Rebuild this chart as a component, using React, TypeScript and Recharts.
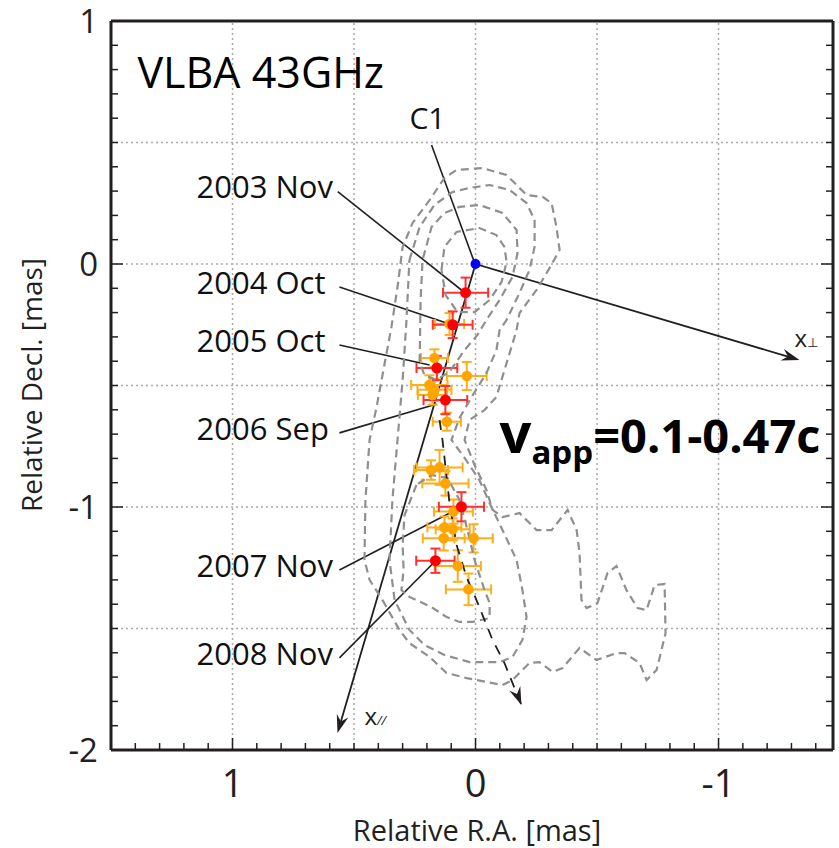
import React from 'react';
import { ScatterChart, Scatter, XAxis, YAxis, ReferenceLine, ErrorBar } from 'recharts';

const FONT = "'Open Sans', 'DejaVu Sans', sans-serif";
const INK = '#231f20';

// axis ticks (minor every 0.1 mas, labels on integers)
const xTicks = [1.5, 1.4, 1.3, 1.2, 1.1, 1, 0.9, 0.8, 0.7, 0.6, 0.5, 0.4, 0.3, 0.2, 0.1, 0, -0.1, -0.2, -0.3, -0.4, -0.5, -0.6, -0.7, -0.8, -0.9, -1, -1.1, -1.2, -1.3, -1.4];
const yTicks = [1, 0.9, 0.8, 0.7, 0.6, 0.5, 0.4, 0.3, 0.2, 0.1, 0, -0.1, -0.2, -0.3, -0.4, -0.5, -0.6, -0.7, -0.8, -0.9, -1, -1.1, -1.2, -1.3, -1.4, -1.5, -1.6, -1.7, -1.8, -1.9, -2];
const xTickLabels = [1, 0, -1];
const yTickLabels = [1, 0, -1, -2];
const gridX = [1, 0.5, 0, -0.5, -1];
const gridY = [0.5, 0, -0.5, -1, -1.5];

// C1 core
const corePts = [{ x: 0, y: 0 }];

// red epochs (labelled)
const redPts = [
  { x: 0.041, y: -0.118, ex: 0.093, ey: 0.062 },
  { x: 0.094, y: -0.25, ex: 0.082, ey: 0.055 },
  { x: 0.159, y: -0.428, ex: 0.084, ey: 0.05 },
  { x: 0.124, y: -0.56, ex: 0.09, ey: 0.058 },
  { x: 0.058, y: -0.999, ex: 0.093, ey: 0.06 },
  { x: 0.165, y: -1.221, ex: 0.079, ey: 0.05 },
];

// orange epochs
const orangePts = [
  { x: 0.107, y: -0.247, ex: 0.06, ey: 0.045 },
  { x: 0.169, y: -0.387, ex: 0.055, ey: 0.036 },
  { x: 0.036, y: -0.461, ex: 0.082, ey: 0.058 },
  { x: 0.19, y: -0.498, ex: 0.075, ey: 0.04 },
  { x: 0.169, y: -0.518, ex: 0.07, ey: 0.045 },
  { x: 0.177, y: -0.539, ex: 0.06, ey: 0.04 },
  { x: 0.118, y: -0.649, ex: 0.058, ey: 0.037 },
  { x: 0.183, y: -0.848, ex: 0.07, ey: 0.04 },
  { x: 0.148, y: -0.837, ex: 0.095, ey: 0.072 },
  { x: 0.124, y: -0.903, ex: 0.095, ey: 0.05 },
  { x: 0.091, y: -1.019, ex: 0.08, ey: 0.05 },
  { x: 0.128, y: -1.084, ex: 0.07, ey: 0.045 },
  { x: 0.094, y: -1.092, ex: 0.07, ey: 0.045 },
  { x: 0.131, y: -1.129, ex: 0.086, ey: 0.05 },
  { x: 0.008, y: -1.129, ex: 0.079, ey: 0.058 },
  { x: 0.073, y: -1.243, ex: 0.095, ey: 0.065 },
  { x: 0.029, y: -1.339, ex: 0.093, ey: 0.065 },
];

// contour levels (dashed grey)
const contourOuter = [
  { x: 0.383, y: -1.383 }, { x: 0.313, y: -1.506 }, { x: 0.272, y: -1.56 }, { x: 0.189, y: -1.617 },
  { x: 0.119, y: -1.683 }, { x: 0.037, y: -1.704 }, { x: -0.045, y: -1.72 }, { x: -0.111, y: -1.733 },
  { x: -0.152, y: -1.712 }, { x: -0.222, y: -1.642 }, { x: -0.263, y: -1.638 }, { x: -0.317, y: -1.679 },
  { x: -0.358, y: -1.663 }, { x: -0.428, y: -1.58 }, { x: -0.498, y: -1.63 }, { x: -0.58, y: -1.601 },
  { x: -0.613, y: -1.601 }, { x: -0.675, y: -1.642 }, { x: -0.704, y: -1.712 }, { x: -0.745, y: -1.671 },
  { x: -0.782, y: -1.519 }, { x: -0.778, y: -1.317 }, { x: -0.737, y: -1.321 }, { x: -0.704, y: -1.424 },
  { x: -0.667, y: -1.416 }, { x: -0.621, y: -1.342 }, { x: -0.58, y: -1.243 }, { x: -0.543, y: -1.272 },
  { x: -0.502, y: -1.395 }, { x: -0.457, y: -1.416 }, { x: -0.436, y: -1.383 }, { x: -0.428, y: -1.189 },
  { x: -0.416, y: -1.095 }, { x: -0.379, y: -1.012 }, { x: -0.313, y: -1.095 }, { x: -0.251, y: -1.095 },
  { x: -0.181, y: -1.025 }, { x: -0.111, y: -1.041 }, { x: -0.07, y: -1.012 }, { x: -0.045, y: -0.93 },
  { x: 0.004, y: -0.827 }, { x: 0.045, y: -0.724 }, { x: 0.025, y: -0.642 }, { x: -0.037, y: -0.601 },
  { x: -0.086, y: -0.547 }, { x: -0.128, y: -0.407 }, { x: -0.169, y: -0.272 }, { x: -0.181, y: -0.202 },
  { x: -0.251, y: -0.107 }, { x: -0.305, y: -0.016 }, { x: -0.346, y: 0.058 }, { x: -0.333, y: 0.152 },
  { x: -0.313, y: 0.251 }, { x: -0.276, y: 0.276 }, { x: -0.21, y: 0.284 }, { x: -0.128, y: 0.366 },
  { x: -0.029, y: 0.395 }, { x: 0.078, y: 0.387 }, { x: 0.128, y: 0.354 }, { x: 0.189, y: 0.263 },
  { x: 0.259, y: 0.169 }, { x: 0.3, y: 0.07 }, { x: 0.321, y: -0.095 }, { x: 0.346, y: -0.259 },
  { x: 0.407, y: -0.588 }, { x: 0.436, y: -0.724 }, { x: 0.453, y: -0.971 }, { x: 0.457, y: -1.218 },
  { x: 0.436, y: -1.3 }, { x: 0.383, y: -1.383 },
];
const contourSecond = [
  { x: 0.272, y: 0.016 }, { x: 0.23, y: 0.152 }, { x: 0.169, y: 0.243 }, { x: 0.095, y: 0.296 },
  { x: 0.025, y: 0.313 }, { x: -0.058, y: 0.325 }, { x: -0.14, y: 0.305 }, { x: -0.21, y: 0.251 },
  { x: -0.243, y: 0.181 }, { x: -0.243, y: 0.07 }, { x: -0.222, y: -0.025 }, { x: -0.181, y: -0.119 },
  { x: -0.128, y: -0.23 }, { x: -0.099, y: -0.272 }, { x: -0.086, y: -0.354 }, { x: -0.045, y: -0.449 },
  { x: 0.016, y: -0.547 }, { x: 0.066, y: -0.634 }, { x: 0.099, y: -0.724 }, { x: 0.045, y: -0.798 },
  { x: -0.016, y: -0.889 }, { x: -0.058, y: -0.984 }, { x: -0.111, y: -1.095 }, { x: -0.169, y: -1.218 },
  { x: -0.193, y: -1.342 }, { x: -0.21, y: -1.453 }, { x: -0.193, y: -1.547 }, { x: -0.152, y: -1.617 },
  { x: -0.099, y: -1.638 }, { x: 0.025, y: -1.638 }, { x: 0.128, y: -1.609 }, { x: 0.21, y: -1.568 },
  { x: 0.272, y: -1.506 }, { x: 0.333, y: -1.383 }, { x: 0.354, y: -1.218 }, { x: 0.342, y: -0.971 },
  { x: 0.321, y: -0.724 }, { x: 0.3, y: -0.477 }, { x: 0.284, y: -0.23 }, { x: 0.272, y: 0.016 },
];
const contourThird = [
  { x: 0.23, y: -0.403 }, { x: 0.226, y: -0.148 }, { x: 0.218, y: 0.016 }, { x: 0.181, y: 0.152 },
  { x: 0.128, y: 0.21 }, { x: 0.066, y: 0.235 }, { x: -0.016, y: 0.243 }, { x: -0.111, y: 0.21 },
  { x: -0.169, y: 0.14 }, { x: -0.173, y: 0.045 }, { x: -0.152, y: -0.053 }, { x: -0.099, y: -0.148 },
  { x: -0.045, y: -0.23 }, { x: -0.008, y: -0.292 }, { x: 0.045, y: -0.354 }, { x: 0.107, y: -0.444 },
  { x: 0.16, y: -0.477 }, { x: 0.21, y: -0.457 }, { x: 0.23, y: -0.403 },
];
const contourInner = [
  { x: 0.14, y: -0.025 }, { x: 0.128, y: 0.07 }, { x: 0.078, y: 0.132 }, { x: -0.016, y: 0.148 },
  { x: -0.086, y: 0.119 }, { x: -0.119, y: 0.07 }, { x: -0.128, y: 0.008 }, { x: -0.107, y: -0.074 },
  { x: -0.058, y: -0.148 }, { x: 0.004, y: -0.198 }, { x: 0.074, y: -0.198 }, { x: 0.123, y: -0.128 },
  { x: 0.14, y: -0.025 },
];
const contourLower = [
  { x: 0.243, y: -0.909 }, { x: 0.292, y: -1.033 }, { x: 0.3, y: -1.156 }, { x: 0.296, y: -1.259 },
  { x: 0.305, y: -1.342 }, { x: 0.272, y: -1.37 }, { x: 0.181, y: -1.412 }, { x: 0.119, y: -1.453 },
  { x: 0.066, y: -1.473 }, { x: 0.012, y: -1.473 }, { x: -0.058, y: -1.457 }, { x: -0.058, y: -1.395 },
  { x: -0.037, y: -1.342 }, { x: 0.004, y: -1.218 }, { x: 0.033, y: -1.095 }, { x: 0.066, y: -0.971 },
  { x: 0.115, y: -0.881 }, { x: 0.181, y: -0.868 }, { x: 0.243, y: -0.909 },
];
const contours = [contourOuter, contourSecond, contourThird, contourInner, contourLower];

// fitted trajectory (dashed arrow)
const trajectory = [
  { x: 0.148, y: -0.642 }, { x: 0.136, y: -0.724 }, { x: 0.107, y: -0.984 }, { x: 0.078, y: -1.156 },
  { x: 0.037, y: -1.288 }, { x: -0.004, y: -1.383 }, { x: -0.07, y: -1.547 }, { x: -0.119, y: -1.642 },
  { x: -0.189, y: -1.815 },
];

// leader lines: label end -> component
const leaderNames = ['C1', '2003 Nov', '2004 Oct', '2005 Oct', '2006 Sep', '2007 Nov', '2008 Nov'];
const leaderFrom = [
  { x: 0.181, y: 0.49 }, { x: 0.567, y: 0.298 }, { x: 0.56, y: -0.095 }, { x: 0.56, y: -0.333 },
  { x: 0.56, y: -0.695 }, { x: 0.56, y: -1.259 }, { x: 0.56, y: -1.621 },
];
const leaderTo = [
  { x: 0.008, y: 0.016 }, { x: 0.058, y: -0.107 }, { x: 0.107, y: -0.247 }, { x: 0.189, y: -0.416 },
  { x: 0.16, y: -0.576 }, { x: 0.066, y: -1.004 }, { x: 0.165, y: -1.222 },
];

// projection axes
const axisArrowNames = ['x⊥', 'x//'];
const axisArrowEnds = [{ x: -1.333, y: -0.395 }, { x: 0.568, y: -1.93 }];

// text anchors
const dateLabels = [
  { x: 1.148, y: 0.272, name: '2003 Nov' },
  { x: 1.148, y: -0.123, name: '2004 Oct' },
  { x: 1.148, y: -0.362, name: '2005 Oct' },
  { x: 1.148, y: -0.724, name: '2006 Sep' },
  { x: 1.148, y: -1.288, name: '2007 Nov' },
  { x: 1.148, y: -1.65, name: '2008 Nov' },
];
const c1Label = [{ x: 0.198, y: 0.556, name: 'C1' }];
const titleLabel = [{ x: 1.391, y: 0.724, name: 'VLBA 43GHz' }];
const speedLabel = [{ x: -0.099, y: -0.778 }];
const arrowLabels = [
  { x: -1.313, y: -0.342, name: 'x⊥' },
  { x: 0.457, y: -1.897, name: 'x//' },
];

const near = (v: number, list: number[]) => list.some((l) => Math.abs(l - v) < 1e-6);

const BottomTick = (p: any) => {
  const v = p.payload.value;
  const major = near(v, xTickLabels);
  return (
    <g>
      <line x1={p.x} x2={p.x} y1={p.y} y2={p.y - (major ? 12 : 7)} stroke={INK} strokeWidth={1.5} />
      {major && (
        <text x={p.x} y={p.y + 47} textAnchor="middle" fontSize={38} fontFamily={FONT} fill={INK}>
          {String(Math.round(v))}
        </text>
      )}
    </g>
  );
};
const TopTick = (p: any) => {
  const major = near(p.payload.value, xTickLabels);
  return <line x1={p.x} x2={p.x} y1={p.y} y2={p.y + (major ? 12 : 7)} stroke={INK} strokeWidth={1.5} />;
};
const LeftTick = (p: any) => {
  const v = p.payload.value;
  const major = near(v, yTickLabels);
  return (
    <g>
      <line x1={p.x} x2={p.x + (major ? 12 : 7)} y1={p.y} y2={p.y} stroke={INK} strokeWidth={1.5} />
      {major && (
        <text x={p.x - 13} y={p.y + 12} textAnchor="end" fontSize={33} fontFamily={FONT} fill={INK}>
          {String(Math.round(v))}
        </text>
      )}
    </g>
  );
};
const RightTick = (p: any) => {
  const major = near(p.payload.value, yTickLabels);
  return <line x1={p.x} x2={p.x - (major ? 12 : 7)} y1={p.y} y2={p.y} stroke={INK} strokeWidth={1.5} />;
};

const arrowHead = (x1: number, y1: number, x2: number, y2: number) => {
  const len = Math.hypot(x2 - x1, y2 - y1) || 1;
  const ux = (x2 - x1) / len;
  const uy = (y2 - y1) / len;
  const bx = x2 - ux * 18;
  const by = y2 - uy * 18;
  const nx = x2 - ux * 12;
  const ny = y2 - uy * 12;
  return {
    pts: `${x2},${y2} ${bx - uy * 6},${by + ux * 6} ${nx},${ny} ${bx + uy * 6},${by - ux * 6}`,
    nx,
    ny,
  };
};

const ArrowLine = (p: any) => {
  const { x1, y1, x2, y2 } = p;
  const h = arrowHead(x1, y1, x2, y2);
  return (
    <g>
      <line x1={x1} y1={y1} x2={h.nx} y2={h.ny} stroke={INK} strokeWidth={1.8} />
      <polygon points={h.pts} fill={INK} />
    </g>
  );
};
const HeadOnly = (p: any) => {
  const h = arrowHead(p.x1, p.y1, p.x2, p.y2);
  return <polygon points={h.pts} fill={INK} />;
};

const noDot = () => <g />;

export default function App() {
  return (
    <div style={{ position: 'absolute', left: 0, top: 0, width: 839, height: 848, background: '#fff' }}>
      <ScatterChart
        width={839}
        height={848}
        margin={{ top: 0, right: 0, bottom: 0, left: 0 }}
        style={{ fontFamily: FONT }}
      >
        <XAxis
          type="number"
          dataKey="x"
          domain={[-1.471, 1.5]}
          reversed
          allowDataOverflow
          ticks={xTicks}
          interval={0}
          tickSize={0}
          tickMargin={0}
          tick={BottomTick}
          tickLine={false}
          axisLine={{ stroke: INK, strokeWidth: 3 }}
          height={98}
          label={(lp: any) => (
            <text x={477} y={841} textAnchor="middle" fontSize={29} fontFamily={FONT} fill={INK}>
              Relative R.A. [mas]
            </text>
          )}
        />
        <XAxis
          xAxisId="top"
          orientation="top"
          type="number"
          domain={[-1.471, 1.5]}
          reversed
          allowDataOverflow
          ticks={xTicks}
          interval={0}
          tickSize={0}
          tickMargin={0}
          tick={TopTick}
          tickLine={false}
          axisLine={{ stroke: INK, strokeWidth: 3 }}
          height={21}
        />
        <YAxis
          type="number"
          dataKey="y"
          domain={[-2, 1]}
          allowDataOverflow
          ticks={yTicks}
          interval={0}
          tickSize={0}
          tickMargin={0}
          tick={LeftTick}
          tickLine={false}
          axisLine={{ stroke: INK, strokeWidth: 3 }}
          width={111}
          label={(lp: any) => (
            <text
              x={42}
              y={385}
              transform="rotate(-90 42 385)"
              textAnchor="middle"
              fontSize={28}
              fontFamily={FONT}
              fill={INK}
            >
              Relative Decl. [mas]
            </text>
          )}
        />
        <YAxis
          yAxisId="right"
          orientation="right"
          type="number"
          domain={[-2, 1]}
          allowDataOverflow
          ticks={yTicks}
          interval={0}
          tickSize={0}
          tickMargin={0}
          tick={RightTick}
          tickLine={false}
          axisLine={{ stroke: INK, strokeWidth: 3 }}
          width={6}
        />

        {gridX.map((v) => (
          <ReferenceLine key={`gx${v}`} x={v} stroke="#aaa" strokeWidth={1.5} strokeDasharray="2 3" />
        ))}
        {gridY.map((v) => (
          <ReferenceLine key={`gy${v}`} y={v} stroke="#aaa" strokeWidth={1.5} strokeDasharray="2 3" />
        ))}

        {contours.map((c, i) => (
          <Scatter
            key={`c${i}`}
            data={c}
            shape={noDot}
            line={{ stroke: '#8f8f8f', strokeWidth: 2.2, strokeDasharray: '8 5', fill: 'none' }}
            isAnimationActive={false}
          />
        ))}

        <Scatter
          data={trajectory}
          shape={noDot}
          line={{ stroke: INK, strokeWidth: 1.8, strokeDasharray: '10 8', fill: 'none' }}
          isAnimationActive={false}
        />
        <ReferenceLine
          segment={[trajectory[trajectory.length - 2], trajectory[trajectory.length - 1]]}
          shape={HeadOnly}
        />

        {leaderNames.map((n, i) => (
          <ReferenceLine key={n} segment={[leaderFrom[i], leaderTo[i]]} stroke={INK} strokeWidth={1.6} />
        ))}
        {axisArrowNames.map((n, i) => (
          <ReferenceLine key={n} segment={[corePts[0], axisArrowEnds[i]]} shape={ArrowLine} />
        ))}

        <Scatter
          data={orangePts}
          isAnimationActive={false}
          shape={(p: any) => <circle cx={p.cx} cy={p.cy} r={5.3} fill="#ffa500" />}
        >
          <ErrorBar dataKey="ex" direction="x" width={5} stroke="#ffae1a" strokeWidth={2} />
          <ErrorBar dataKey="ey" direction="y" width={5} stroke="#ffae1a" strokeWidth={2} />
        </Scatter>
        <Scatter
          data={redPts}
          isAnimationActive={false}
          shape={(p: any) => <circle cx={p.cx} cy={p.cy} r={5.5} fill="#ff0000" />}
        >
          <ErrorBar dataKey="ex" direction="x" width={5} stroke="#ff3030" strokeWidth={2} />
          <ErrorBar dataKey="ey" direction="y" width={5} stroke="#ff3030" strokeWidth={2} />
        </Scatter>
        <Scatter
          data={corePts}
          isAnimationActive={false}
          shape={(p: any) => <circle cx={p.cx} cy={p.cy} r={5} fill="#0000ff" />}
        />

        <Scatter
          data={dateLabels}
          isAnimationActive={false}
          shape={(p: any) => (
            <text x={p.cx} y={p.cy} fontSize={31} fontFamily={FONT} fill="#111">
              {p.payload.name}
            </text>
          )}
        />
        <Scatter
          data={c1Label}
          isAnimationActive={false}
          shape={(p: any) => (
            <text x={p.cx} y={p.cy} textAnchor="middle" fontSize={30} fontFamily={FONT} fill="#111">
              {p.payload.name}
            </text>
          )}
        />
        <Scatter
          data={titleLabel}
          isAnimationActive={false}
          shape={(p: any) => (
            <text x={p.cx} y={p.cy} fontSize={43} fontFamily={FONT} fill="#000">
              {p.payload.name}
            </text>
          )}
        />
        <Scatter
          data={speedLabel}
          isAnimationActive={false}
          shape={(p: any) => (
            <text x={p.cx} y={p.cy} fontFamily={FONT} fontWeight={700} fill="#000">
              <tspan fontSize={56}>v</tspan>
              <tspan fontSize={33} dy={11}>app</tspan>
              <tspan fontSize={47} dy={-11}>=0.1-0.47c</tspan>
            </text>
          )}
        />
        <Scatter
          data={arrowLabels}
          isAnimationActive={false}
          shape={(p: any) => (
            <text x={p.cx} y={p.cy} fontFamily={FONT} fill={INK}>
              <tspan fontSize={24}>x</tspan>
              <tspan fontSize={13} fontStyle={p.payload.name === 'x//' ? 'italic' : 'normal'}>
                {p.payload.name.slice(1)}
              </tspan>
            </text>
          )}
        />
      </ScatterChart>
    </div>
  );
}
